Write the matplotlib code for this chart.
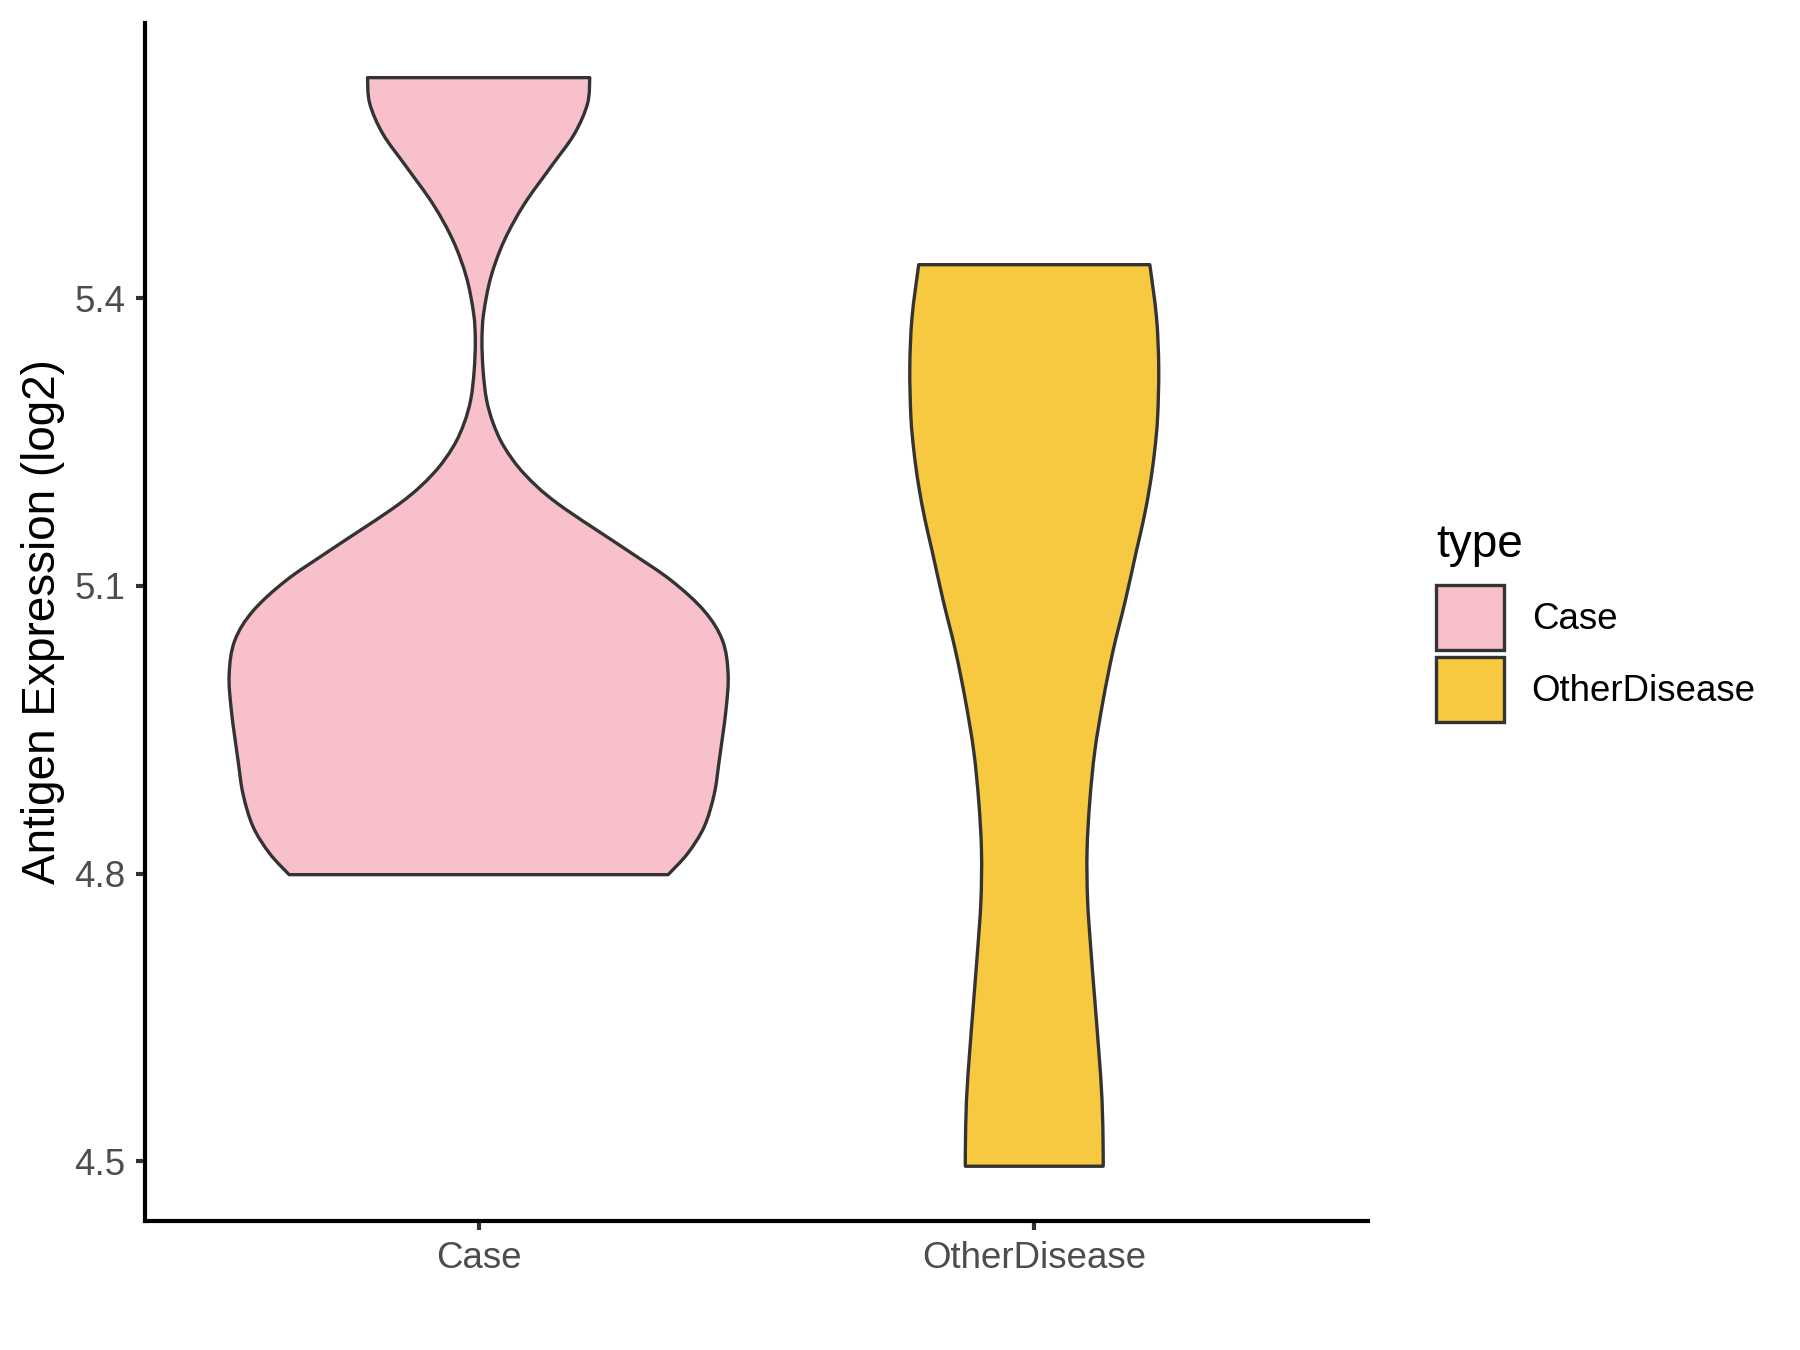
import numpy as np
import matplotlib
matplotlib.use("Agg")
import matplotlib.pyplot as plt
from matplotlib.patches import Patch, PathPatch
from matplotlib.path import Path

plt.rcParams['font.family'] = ['Liberation Sans', 'DejaVu Sans']

# groups and fill colours
groups = ['Case', 'OtherDisease']
colors = ['#F7C0CB', '#F6C940']

# violin outlines: y value and half-width (in category units)
case_y = [5.630, 5.603, 5.571, 5.537, 5.498, 5.460, 5.422, 5.384, 5.356, 5.325,
          5.295, 5.270, 5.245, 5.217, 5.186, 5.137, 5.106, 5.074, 5.043, 5.008,
          4.970, 4.918, 4.883, 4.849, 4.821, 4.799]
case_w = [0.200, 0.196, 0.172, 0.130, 0.082, 0.046, 0.022, 0.009, 0.006, 0.008,
          0.014, 0.026, 0.046, 0.082, 0.142, 0.268, 0.346, 0.406, 0.439, 0.449,
          0.445, 0.433, 0.424, 0.406, 0.376, 0.341]

other_y = [5.435, 5.380, 5.328, 5.276, 5.240, 5.206, 5.170, 5.137, 5.085, 5.033,
           4.981, 4.928, 4.876, 4.824, 4.772, 4.720, 4.668, 4.616, 4.564, 4.512,
           4.495]
other_w = [0.208, 0.220, 0.224, 0.222, 0.2165, 0.2085, 0.197, 0.184, 0.164, 0.142,
           0.124, 0.109, 0.100, 0.095, 0.096, 0.102, 0.109, 0.116, 0.122, 0.124,
           0.124]

outlines = [(case_y, case_w), (other_y, other_w)]


def smooth_side(pts):
    # Catmull-Rom through the points, written as cubic bezier segments
    p = np.vstack([pts[0], pts, pts[-1]])
    verts, codes = [], []
    for k in range(1, len(p) - 2):
        c1 = p[k] + (p[k + 1] - p[k - 1]) / 6
        c2 = p[k + 1] - (p[k + 2] - p[k]) / 6
        verts += [c1, c2, p[k + 1]]
        codes += [Path.CURVE4] * 3
    return verts, codes


def violin_path(pos, ys, ws):
    ys = np.array(ys)
    ws = np.array(ws)
    left = np.column_stack([pos - ws, ys])
    right = np.column_stack([pos + ws, ys])[::-1]
    verts = [left[0]]
    codes = [Path.MOVETO]
    v, c = smooth_side(left)
    verts += v
    codes += c
    verts.append(right[0])
    codes.append(Path.LINETO)
    v, c = smooth_side(right)
    verts += v
    codes += c
    verts.append(left[0])
    codes.append(Path.CLOSEPOLY)
    return Path(verts, codes)


fig = plt.figure(figsize=(6, 4.5), dpi=300)
ax = fig.add_axes([0.0807, 0.0958, 0.6791, 0.887])

for i, (ys, ws) in enumerate(outlines):
    patch = PathPatch(violin_path(i + 1, ys, ws), facecolor=colors[i],
                      edgecolor='#333333', linewidth=0.8, joinstyle='round')
    ax.add_patch(patch)

# ggplot-style expansion
lo = min(min(case_y), min(other_y))
hi = max(max(case_y), max(other_y))
pad = (hi - lo) * 0.05
ax.set_ylim(lo - pad, hi + pad)
ax.set_xlim(0.4, 2.6)

ax.set_xticks([1, 2])
ax.set_xticklabels(groups)
ax.set_yticks([4.5, 4.8, 5.1, 5.4])
ax.set_yticklabels(['4.5', '4.8', '5.1', '5.4'])
ax.tick_params(axis='both', labelsize=8.8, labelcolor='#4D4D4D', color='#333333',
               width=1.0, length=2.2, pad=2.6)

for side in ['top', 'right']:
    ax.spines[side].set_visible(False)
for side in ['left', 'bottom']:
    ax.spines[side].set_linewidth(1.0)
    ax.spines[side].set_color('black')

ax.set_ylabel('Antigen Expression (log2)', fontsize=11, color='black')
ax.yaxis.set_label_coords(-0.066, 0.5)

# legend: title as its own text, keys below it
fig.text(0.798, 0.5876, 'type', fontsize=11, ha='left', va='baseline')
handles = [Patch(facecolor=c, edgecolor='#333333', linewidth=0.8) for c in colors]
fig.legend(handles, groups, loc='upper left',
           bbox_to_anchor=(0.798, 0.5663), frameon=False, fontsize=8.8,
           handlelength=1.85, handleheight=2.35,
           labelspacing=0.17, handletextpad=0.75,
           borderaxespad=0, borderpad=0)

fig.savefig('out.png', dpi=300)
